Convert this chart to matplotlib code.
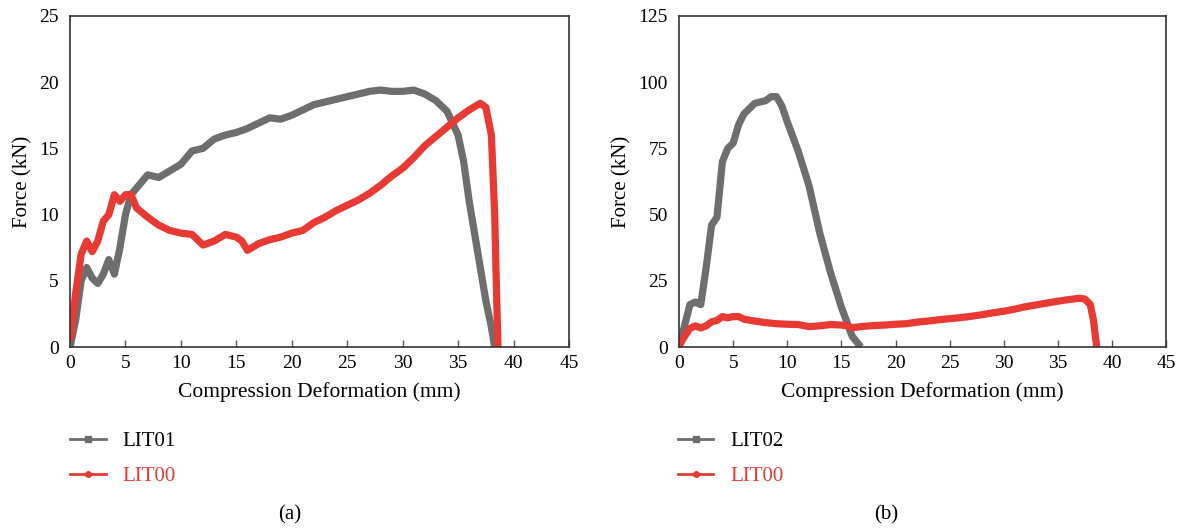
import matplotlib
matplotlib.use("Agg")
import matplotlib.pyplot as plt
from matplotlib.lines import Line2D

plt.rcParams['font.family'] = ['Liberation Serif', 'DejaVu Serif']

# LIT01 (panel a)
lit01_x = [0, 0.5, 1, 1.5, 2, 2.5, 3, 3.5, 4, 4.5, 5, 5.5, 6, 7, 8, 9, 10, 11, 12, 13,
           14, 15, 16, 17, 18, 19, 20, 21, 22, 23, 24, 25, 26, 27, 28, 29, 30, 31, 32,
           33, 34, 35, 35.5, 36, 36.5, 37, 37.5, 38, 38.3]
lit01_y = [0, 2, 5, 6, 5.2, 4.8, 5.5, 6.6, 5.5, 7.5, 10, 11.5, 12, 13, 12.8, 13.3, 13.8,
           14.8, 15, 15.7, 16, 16.2, 16.5, 16.9, 17.3, 17.2, 17.5, 17.9, 18.3, 18.5, 18.7,
           18.9, 19.1, 19.3, 19.4, 19.3, 19.3, 19.4, 19.1, 18.6, 17.8, 16, 14, 11, 8.5,
           6, 3.5, 1.5, 0]

# LIT00 (both panels)
lit00_x = [0, 0.5, 1, 1.5, 2, 2.5, 3, 3.5, 4, 4.5, 5, 5.5, 6, 7, 8, 9, 10, 11, 12, 13,
           14, 15, 15.5, 16, 17, 18, 19, 20, 21, 22, 23, 24, 25, 26, 27, 28, 29, 30, 31,
           32, 33, 34, 35, 36, 37, 37.5, 38, 38.3, 38.5, 38.6]
lit00_y = [0.5, 4, 7, 8, 7.2, 8, 9.5, 10, 11.5, 11, 11.5, 11.5, 10.5, 9.8, 9.2, 8.8,
           8.6, 8.5, 7.7, 8.0, 8.5, 8.3, 8.0, 7.3, 7.8, 8.1, 8.3, 8.6, 8.8, 9.4, 9.8,
           10.3, 10.7, 11.1, 11.6, 12.2, 12.9, 13.5, 14.3, 15.2, 15.9, 16.6, 17.3, 17.9,
           18.4, 18.1, 16, 10, 3, 0]

# LIT02 (panel b)
lit02_x = [0, 0.5, 1, 1.5, 2, 2.5, 3, 3.5, 4, 4.5, 5, 5.5, 6, 7, 8, 8.5, 9, 9.5, 10,
           11, 12, 13, 14, 15, 16, 16.8]
lit02_y = [0, 8, 16, 17, 16, 30, 46, 49, 70, 75, 77, 84, 88, 92, 93, 94.5, 94.5, 91,
           85, 74, 61, 43, 28, 15, 4, 0]

grey = '#6e6e6e'
red = '#e83a33'

fig = plt.figure(figsize=(11.79, 5.29), dpi=100)
ax1 = fig.add_axes([0.0594, 0.344, 0.4232, 0.626])
ax2 = fig.add_axes([0.576, 0.344, 0.413, 0.626])

panels = [
    (ax1, lit01_x, lit01_y, 'LIT01', 25, 5, 0.0526, 0.246, '(a)'),
    (ax2, lit02_x, lit02_y, 'LIT02', 125, 25, 0.568, 0.752, '(b)'),
]
for ax, sx, sy, name, ymax, ystep, lx, px, tag in panels:
    ax.plot(sx, sy, color=grey, lw=5.2, solid_capstyle='butt')
    ax.plot(lit00_x, lit00_y, color=red, lw=5.2, solid_capstyle='butt')
    ax.set_xlim(0, 45)
    ax.set_ylim(0, ymax)
    ax.set_xticks(range(0, 46, 5))
    ax.set_yticks(range(0, ymax + 1, ystep))
    ax.tick_params(axis='x', direction='in', length=5, width=1, color='#555555',
                   labelsize=14, pad=6)
    ax.tick_params(axis='y', length=0, labelsize=14, pad=8)
    for s in ax.spines.values():
        s.set_color('#333333')
        s.set_linewidth(1.2)
    ax.set_xlabel('Compression Deformation (mm)', fontsize=15.5, labelpad=7)
    ax.set_ylabel('Force (kN)', fontsize=15, labelpad=5)

    handles = [Line2D([], [], color=grey, lw=2, marker='s', markersize=4),
               Line2D([], [], color=red, lw=2, marker='o', markersize=4)]
    leg = fig.legend(handles, [name, 'LIT00'], loc='upper left',
                     bbox_to_anchor=(lx, 1 - 423 / 529), frameon=False,
                     fontsize=15, handlelength=1.7, handletextpad=0.8,
                     labelspacing=0.75, borderaxespad=0)
    leg.get_texts()[1].set_color(red)
    fig.text(px, 0.027, tag, fontsize=15, ha='center', va='center')

fig.savefig('out.png', dpi=100)
